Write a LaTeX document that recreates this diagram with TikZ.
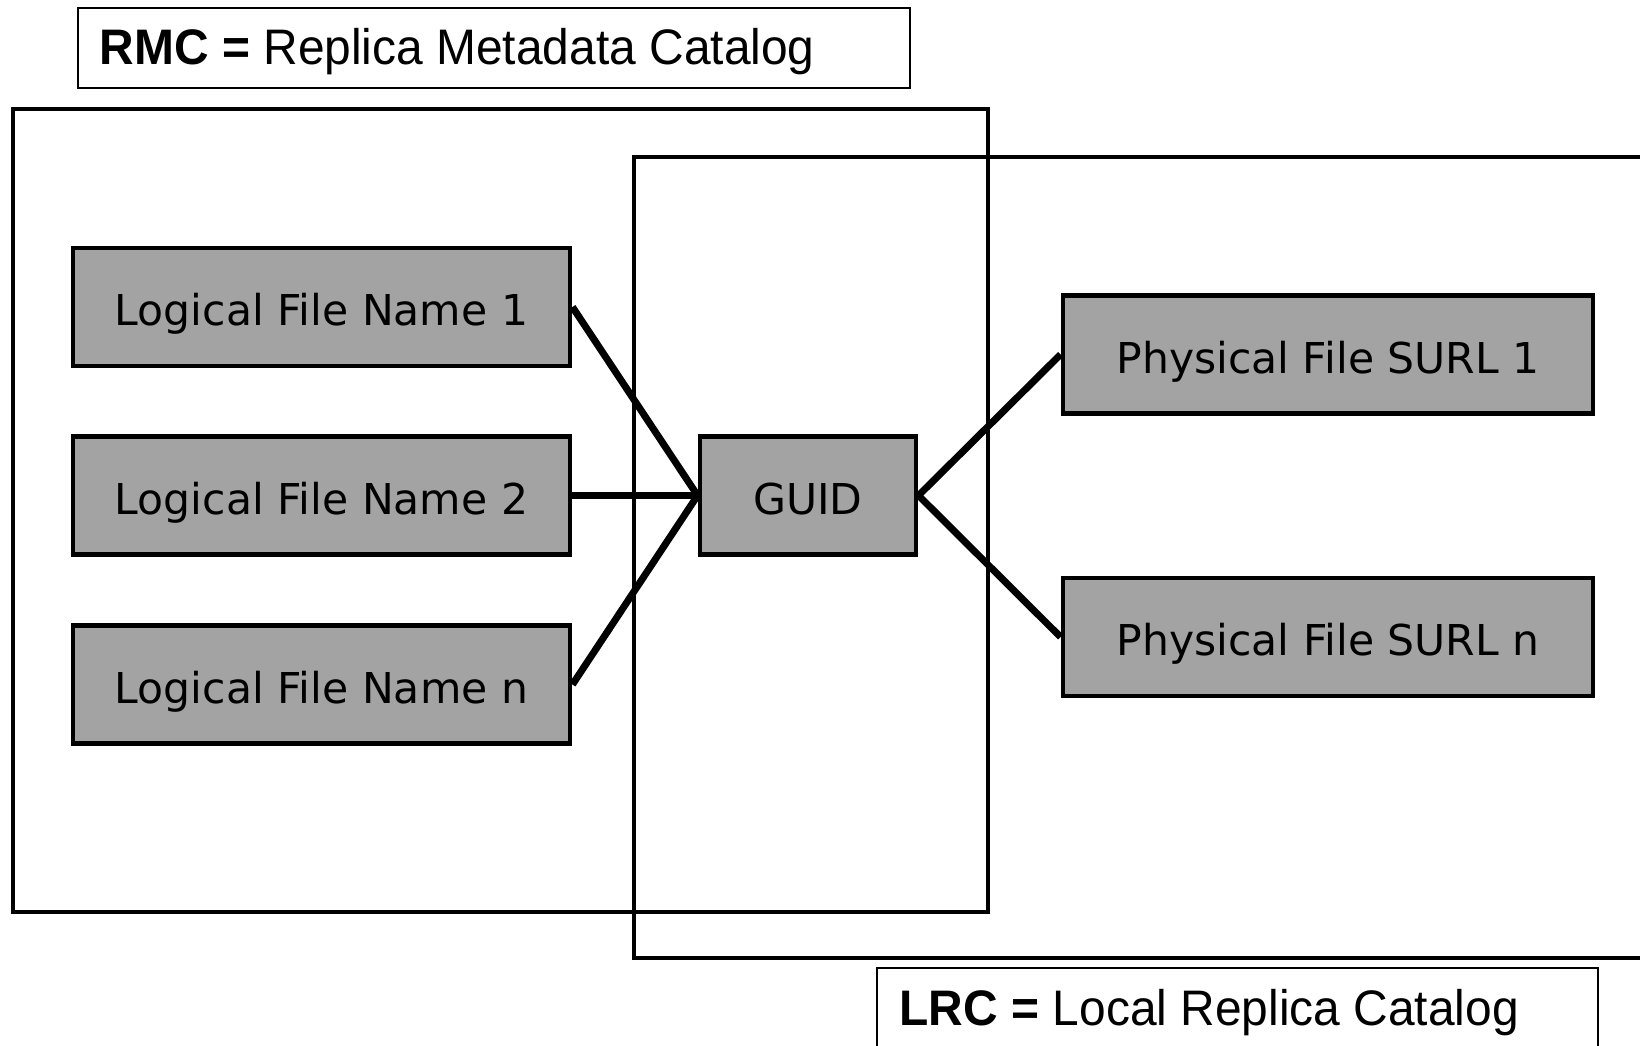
\documentclass[tikz,border=0pt]{standalone}
\usepackage{fontspec}
\setmainfont{DejaVu Sans}
\newfontfamily\legendfont[FakeStretch=0.96]{Liberation Sans}
\usepackage{tikz}
\definecolor{boxgray}{HTML}{A3A3A3}
\tikzset{
	filebox/.style={draw, line width=1.4pt, fill=boxgray, inner sep=0pt,
		minimum height=1.18cm, text height=10.8pt, text depth=0pt,
		font=\fontsize{12.1}{14}\selectfont},
	catbox/.style={draw, line width=1.3pt},
	legendbox/.style={draw, line width=0.6pt},
	link/.style={line width=2pt}
}

\begin{document}
\begin{tikzpicture}
		%%%%% START %%%%%
		\useasboundingbox (0, 0) rectangle (16.4, 10.45);
		
		% catalogs
		\draw[catbox] (0.13, 9.36) rectangle (9.88, 1.33);
		\draw[catbox] (6.34, 8.88) rectangle (16.7, 0.87);
		
		% legends
		\draw[legendbox] (0.78, 10.37) rectangle (9.10, 9.57);
		\node[anchor=base west, inner sep=0pt, font=\legendfont\fontsize{14.2}{16}\selectfont] (rmc) at (0.99, 9.80) {\textbf{RMC =} Replica Metadata Catalog};
		\draw[legendbox] (8.77, 0.77) rectangle (15.98, -0.2);
		\node[anchor=base west, inner sep=0pt, font=\legendfont\fontsize{14.2}{16}\selectfont] (lrc) at (8.99, 0.20) {\textbf{LRC =} Local Replica Catalog};
		
		% logical names
		\node[filebox, minimum width=4.97cm] (lfn1) at (3.215, 7.38) {Logical File Name 1};
		\node[filebox, minimum width=4.97cm] (lfn2) at (3.215, 5.495) {Logical File Name 2};
		\node[filebox, minimum width=4.97cm] (lfnn) at (3.215, 3.605) {Logical File Name n};
		
		\node[filebox, minimum width=2.16cm] (guid) at (8.08, 5.495) {GUID};
		
		% physical names
		\node[filebox, minimum width=5.30cm] (pfn1) at (13.28, 6.905) {Physical File SURL 1};
		\node[filebox, minimum width=5.30cm] (pfnn) at (13.28, 4.08) {Physical File SURL n};
		
		\draw[link] (lfn1.east) -- (guid.west);
		\draw[link] (lfn2.east) -- (guid.west);
		\draw[link] (lfnn.east) -- (guid.west);
		\draw[link] (guid.east) -- (pfn1.west);
		\draw[link] (guid.east) -- (pfnn.west);
		
		%%%%% END %%%%%
	\end{tikzpicture}
\end{document}
